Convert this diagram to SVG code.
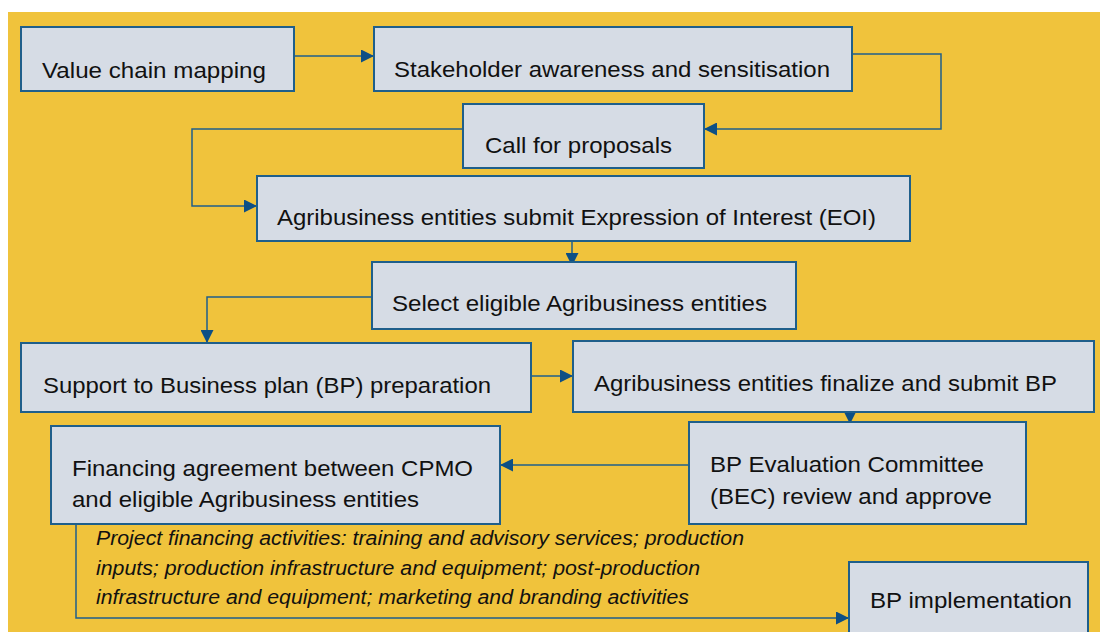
<svg xmlns="http://www.w3.org/2000/svg" width="1103" height="632" viewBox="0 0 1103 632">
<style>
.bx{fill:#D6DCE5;stroke:#1F5F8B;stroke-width:2}
.t{font-family:"Liberation Sans",Arial,sans-serif;font-size:22.5px;fill:#111}
.it{font-family:"Liberation Sans",Arial,sans-serif;font-size:19.5px;font-style:italic;fill:#111}
.c{fill:none;stroke:#1F5F8B;stroke-width:1.5}
</style>
<defs>
<marker id="ah" viewBox="0 0 12 12" refX="12" refY="6" markerWidth="13" markerHeight="13" markerUnits="userSpaceOnUse" orient="auto">
<path d="M0,0 L12,6 L0,12 Z" fill="#0D4F85"/>
</marker>
</defs>
<rect x="0" y="0" width="1103" height="632" fill="#FFFFFF"/>
<rect x="8" y="12" width="1092" height="620" fill="#F0C33C"/>
<g id="connectors">
<path class="c" d="M294,56 H374" marker-end="url(#ah)"/>
<path class="c" d="M852,54 H941 V129 H704" marker-end="url(#ah)"/>
<path class="c" d="M463,129 H192 V206 H257" marker-end="url(#ah)"/>
<path class="c" d="M572,241 V266" marker-end="url(#ah)"/>
<path class="c" d="M372,297 H207 V343" marker-end="url(#ah)"/>
<path class="c" d="M531,376 H573" marker-end="url(#ah)"/>
<path class="c" d="M850,404 V424" marker-end="url(#ah)"/>
<path class="c" d="M689,465 H500" marker-end="url(#ah)"/>
<path class="c" d="M76,524 V618 H849" marker-end="url(#ah)"/>
</g>
<g id="n1"><rect class="bx" x="21" y="27" width="273" height="64"/><text class="t" x="42" y="78" textLength="224" lengthAdjust="spacingAndGlyphs">Value chain mapping</text></g>
<g id="n2"><rect class="bx" x="374" y="27" width="478" height="64"/><text class="t" x="394" y="77" textLength="436" lengthAdjust="spacingAndGlyphs">Stakeholder awareness and sensitisation</text></g>
<g id="n3"><rect class="bx" x="463" y="104" width="241" height="64"/><text class="t" x="485" y="153" textLength="187" lengthAdjust="spacingAndGlyphs">Call for proposals</text></g>
<g id="n4"><rect class="bx" x="257" y="176" width="653" height="65"/><text class="t" x="277" y="225" textLength="599" lengthAdjust="spacingAndGlyphs">Agribusiness entities submit Expression of Interest (EOI)</text></g>
<g id="n5"><rect class="bx" x="372" y="262" width="424" height="67"/><text class="t" x="392" y="311" textLength="375" lengthAdjust="spacingAndGlyphs">Select eligible Agribusiness entities</text></g>
<g id="n6"><rect class="bx" x="21" y="343" width="510" height="69"/><text class="t" x="43" y="393" textLength="448" lengthAdjust="spacingAndGlyphs">Support to Business plan (BP) preparation</text></g>
<g id="n7"><rect class="bx" x="573" y="341" width="521" height="71"/><text class="t" x="594" y="391" textLength="463" lengthAdjust="spacingAndGlyphs">Agribusiness entities finalize and submit BP</text></g>
<g id="n8"><rect class="bx" x="689" y="422" width="337" height="102"/><text class="t" x="710" y="472" textLength="274" lengthAdjust="spacingAndGlyphs">BP Evaluation Committee</text><text class="t" x="710" y="504" textLength="282" lengthAdjust="spacingAndGlyphs">(BEC) review and approve</text></g>
<g id="n9"><rect class="bx" x="51" y="426" width="449" height="98"/><text class="t" x="72" y="476" textLength="401" lengthAdjust="spacingAndGlyphs">Financing agreement between CPMO</text><text class="t" x="72" y="507" textLength="347" lengthAdjust="spacingAndGlyphs">and eligible Agribusiness entities</text></g>
<g id="n10"><rect class="bx" x="849" y="562" width="239" height="72"/><text class="t" x="870" y="608" textLength="202" lengthAdjust="spacingAndGlyphs">BP implementation</text></g>
<g id="note">
<text class="it" x="96" y="545" textLength="648" lengthAdjust="spacingAndGlyphs">Project financing activities: training and advisory services; production</text>
<text class="it" x="96" y="575" textLength="604" lengthAdjust="spacingAndGlyphs">inputs; production infrastructure and equipment; post-production</text>
<text class="it" x="96" y="604" textLength="593" lengthAdjust="spacingAndGlyphs">infrastructure and equipment; marketing and branding activities</text>
</g>
</svg>
